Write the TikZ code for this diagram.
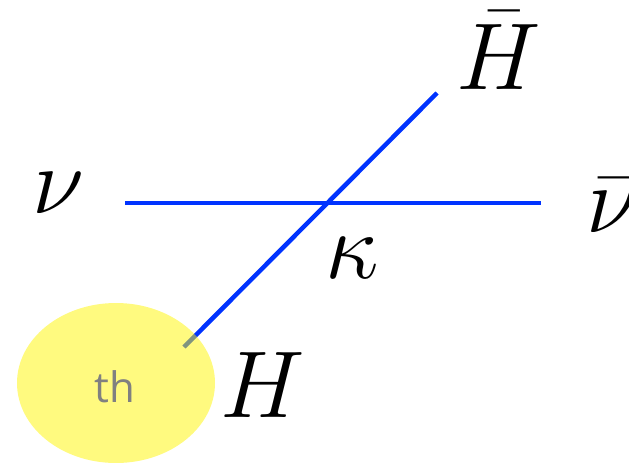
\RequirePackage{fix-cm}
\documentclass[tikz,border=0pt]{standalone}
\usepackage{fontspec}
\newfontfamily\thfont{Open Sans}
\usetikzlibrary{shapes.geometric}
\definecolor{lineblue}{RGB}{0,51,255}
\definecolor{blobyellow}{RGB}{255,245,0}

\begin{document}
\begin{tikzpicture}[x=1pt,y=-1pt]
\tikzstyle{prop} = [draw=lineblue,line width=4.5pt]
\tikzstyle{lab} = [anchor=base,inner sep=0pt,font=\fontsize{95}{100}\selectfont]

\useasboundingbox (0,0) rectangle (629,463);

\coordinate (nuL) at (125,203);
\coordinate (nuR) at (541,203);
\coordinate (HL) at (184,347);
\coordinate (HR) at (437,93);

\draw[prop] (nuL) -- (nuR);
\draw[prop] (HL) -- (HR);

%\draw[thick,gray] (HL) -- (th);
\node[shape=ellipse,fill=blobyellow,fill opacity=.5,minimum width=198pt,minimum height=160pt,inner sep=0pt] (th) at (116,383) {};
\node[text=gray,font=\thfont\fontsize{42}{44}\selectfont] (thtxt) at (115,387) {th};

\node[lab] (nu) at (58,213) {$\nu$};
\node[lab] (nubar) at (612,232) {$\bar\nu$};
\node[lab] (Hbar) at (499,89) {$\bar H$};
\node[lab] (H) at (263,417) {$H$};
\node[lab] (kappa) at (352,278) {$\kappa$};

\end{tikzpicture}
\end{document}
